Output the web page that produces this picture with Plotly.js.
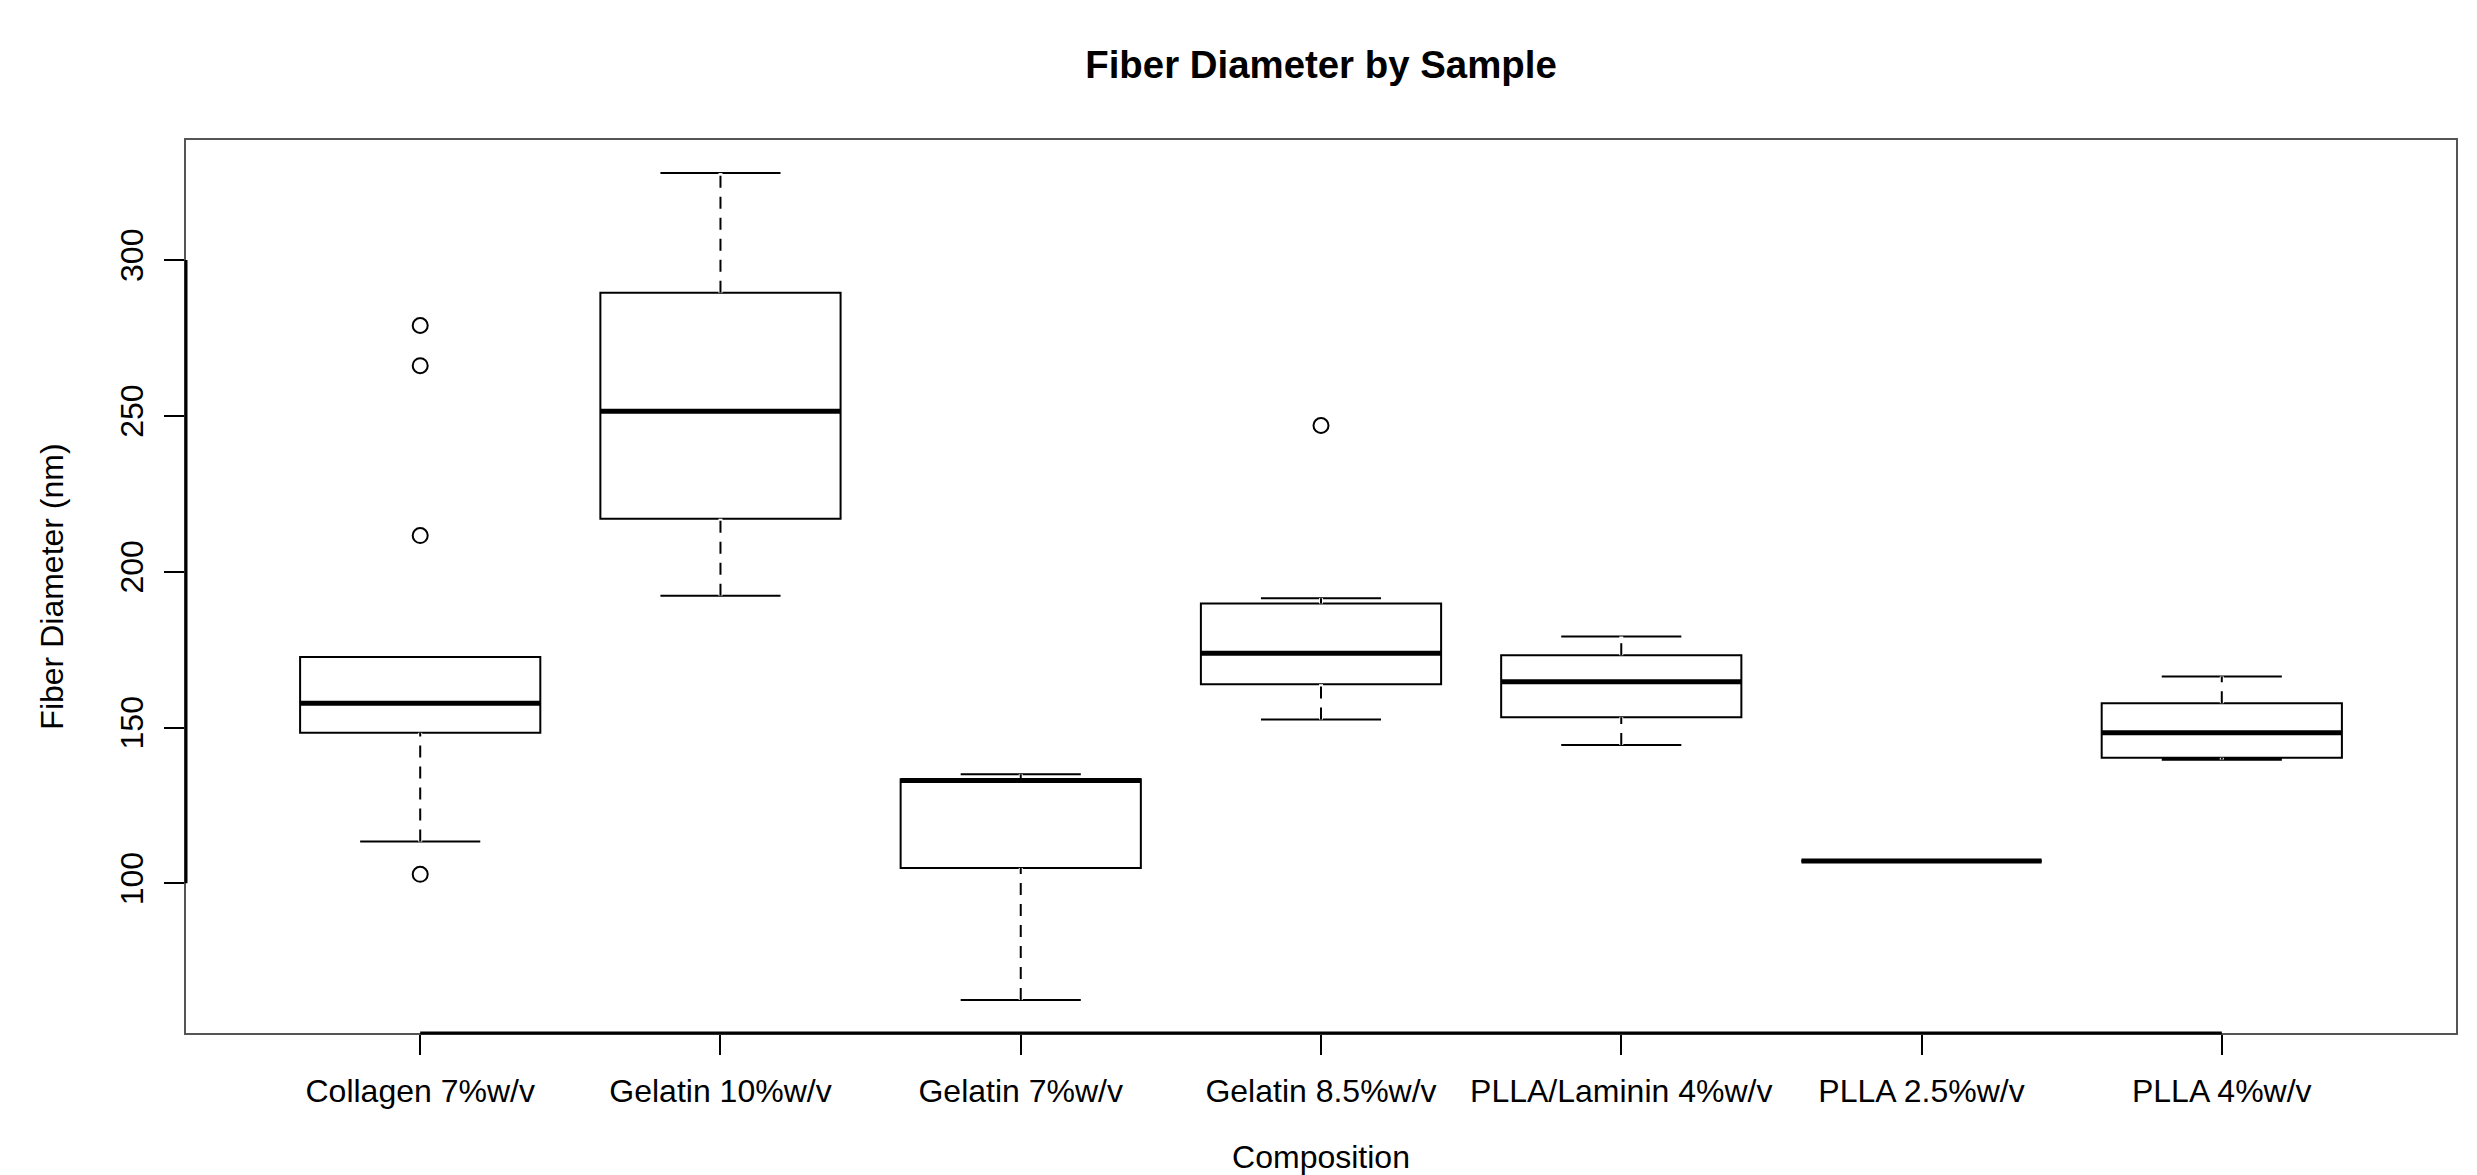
<!DOCTYPE html>
<html>
<head>
<meta charset="utf-8">
<script src="https://cdn.plot.ly/plotly-3.0.1.min.js"></script>
<style>
  html, body { margin: 0; padding: 0; background: #ffffff; }
  #chart { width: 2477px; height: 1175px; }
</style>
</head>
<body>
<div id="chart"></div>
<script>
// ---- data ----
const categories = ["Collagen 7%w/v", "Gelatin 10%w/v", "Gelatin 7%w/v", "Gelatin 8.5%w/v",
                    "PLLA/Laminin 4%w/v", "PLLA 2.5%w/v", "PLLA 4%w/v"];
const lowerWhisker = [113.4, 192.3, 62.6, 152.6, 144.4, 107.2, 139.7];
const q1Values     = [148.3, 217.0, 104.9, 163.9, 153.3, 107.2, 140.3];
const medianValues = [157.8, 251.5, 133.0, 173.8, 164.7, 107.2, 148.3];
const q3Values     = [172.6, 289.5, 133.4, 189.8, 173.2, 107.2, 157.8];
const upperWhisker = [172.6, 327.9, 135.0, 191.5, 179.2, 107.2, 166.4];
const outlierCategory = ["Collagen 7%w/v", "Collagen 7%w/v", "Collagen 7%w/v", "Collagen 7%w/v",
                         "Gelatin 8.5%w/v"];
const outlierValues   = [279.0, 266.1, 211.6, 102.9, 246.9];
const yTickValues = [100, 150, 200, 250, 300];

// ---- styling / layout helpers ----
const FONT = "Liberation Sans, Arial, Helvetica, sans-serif";
const positions = categories.map((c, i) => i + 1);
const posOf = name => positions[categories.indexOf(name)];
const boxWidth = 0.8;
const half = boxWidth / 2;

// whisker segments (vertical), separated by nulls
const wx = [], wy = [];
positions.forEach((p, i) => {
  wx.push(p, p, null, p, p, null);
  wy.push(q3Values[i], upperWhisker[i], null, lowerWhisker[i], q1Values[i], null);
});
// median segments
const mx = [], my = [];
positions.forEach((p, i) => {
  mx.push(p - half, p + half, null);
  my.push(medianValues[i], medianValues[i], null);
});

const allVals = lowerWhisker.concat(upperWhisker, outlierValues);
const dmin = Math.min(...allVals), dmax = Math.max(...allVals);
const pad = 0.04 * (dmax - dmin);

const traces = [
  {
    type: "box",
    x: positions,
    q1: q1Values,
    median: medianValues,
    q3: q3Values,
    lowerfence: lowerWhisker,
    upperfence: upperWhisker,
    width: boxWidth,
    whiskerwidth: 0.5,
    boxpoints: false,
    fillcolor: "#ffffff",
    line: { color: "#000000", width: 2 },
    hoverinfo: "skip"
  },
  { // hide solid whiskers
    type: "scatter", mode: "lines", x: wx, y: wy,
    line: { color: "#ffffff", width: 4 }, hoverinfo: "skip"
  },
  { // dashed whiskers
    type: "scatter", mode: "lines", x: wx, y: wy,
    line: { color: "#000000", width: 2, dash: "12px,9px" }, hoverinfo: "skip"
  },
  { // thick medians
    type: "scatter", mode: "lines", x: mx, y: my,
    line: { color: "#000000", width: 5 }, hoverinfo: "skip"
  },
  { // outliers
    type: "scatter", mode: "markers",
    x: outlierCategory.map(posOf), y: outlierValues,
    marker: { symbol: "circle-open", size: 15, color: "#000000", line: { width: 2, color: "#000000" } },
    hoverinfo: "skip"
  }
];

const layout = {
  width: 2477, height: 1175,
  paper_bgcolor: "#ffffff", plot_bgcolor: "#ffffff",
  margin: { l: 186, r: 21, t: 140, b: 142, pad: 0 },
  showlegend: false,
  hovermode: false,
  font: { family: FONT, size: 32, color: "#000000" },
  title: {
    text: "<b>Fiber Diameter by Sample</b>",
    font: { family: FONT, size: 38.4, color: "#000000" },
    x: 0.5, xref: "paper",
    y: 1 - 65 / 1175, yref: "container", yanchor: "middle"
  },
  xaxis: {
    range: [1 - 0.5 - 0.04 * 7, positions.length + 0.5 + 0.04 * 7],
    tickmode: "array",
    tickvals: positions,
    ticktext: categories,
    ticks: "outside", ticklen: 20, tickwidth: 2, tickcolor: "#000000",
    ticklabelstandoff: 9,
    tickfont: { family: FONT, size: 32, color: "#000000" },
    showgrid: false, zeroline: false,
    showline: true, mirror: true, linecolor: "#555555", linewidth: 2,
    title: { text: "Composition", font: { family: FONT, size: 32, color: "#000000" }, standoff: 52 },
    automargin: false
  },
  yaxis: {
    range: [dmin - pad, dmax + pad],
    tickmode: "array",
    tickvals: yTickValues,
    ticktext: yTickValues.map(String),
    tickangle: -90,
    ticks: "outside", ticklen: 20, tickwidth: 2, tickcolor: "#000000",
    ticklabelstandoff: 8,
    tickfont: { family: FONT, size: 32, color: "#000000" },
    showgrid: false, zeroline: false,
    showline: true, mirror: true, linecolor: "#555555", linewidth: 2,
    title: { text: "Fiber Diameter (nm)", font: { family: FONT, size: 32, color: "#000000" }, standoff: 41 },
    automargin: false
  },
  shapes: [
    { type: "line", xref: "x", yref: "paper", x0: positions[0], x1: positions[positions.length - 1], y0: 0, y1: 0,
      line: { color: "#000000", width: 3 } },
    { type: "line", xref: "paper", yref: "y", x0: 0, x1: 0, y0: yTickValues[0], y1: yTickValues[yTickValues.length - 1],
      line: { color: "#000000", width: 3 } }
  ]
};

Plotly.newPlot("chart", traces, layout, { staticPlot: true, displayModeBar: false });
</script>
</body>
</html>
